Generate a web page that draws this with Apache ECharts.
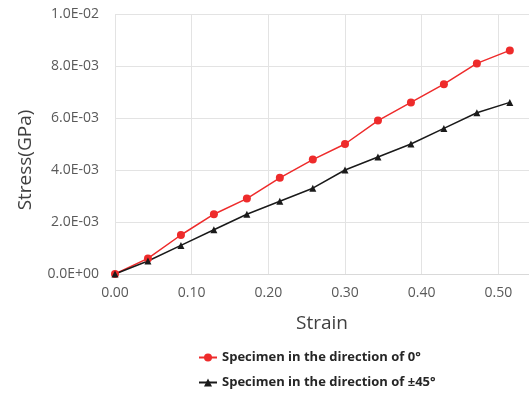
<!DOCTYPE html>
<html>
<head>
<meta charset="utf-8">
<script src="https://cdn.jsdelivr.net/npm/echarts@6/dist/echarts.min.js"></script>
<style>
  html, body { margin: 0; padding: 0; background: #fff; }
  #chart { width: 529px; height: 393px; }
</style>
</head>
<body>
<div id="chart"></div>
<script>
// strain values (x) and stress in GPa (y)
const strain = [0, 0.043, 0.086, 0.129, 0.172, 0.215, 0.258, 0.300, 0.343, 0.386, 0.429, 0.472, 0.515];
const stress0 = [0, 0.0006, 0.0015, 0.0023, 0.0029, 0.0037, 0.0044, 0.0050, 0.0059, 0.0066, 0.0073, 0.0081, 0.0086];
const stress45 = [0, 0.0005, 0.0011, 0.0017, 0.0023, 0.0028, 0.0033, 0.0040, 0.0045, 0.0050, 0.0056, 0.0062, 0.0066];
const seriesNames = ['Specimen in the direction of 0°', 'Specimen in the direction of ±45°'];

const font = 'Open Sans';

function expFmt(v) {
  // Excel style 1.0E-02
  let s = v.toExponential(1).toUpperCase();
  let m = s.split('E');
  let exp = parseInt(m[1], 10);
  let sign = exp < 0 ? '-' : '+';
  let e = Math.abs(exp).toString().padStart(2, '0');
  return m[0] + 'E' + sign + e;
}

let chart = echarts.init(document.getElementById('chart'));
const option = {
  animation: false,
  grid: { left: 115, right: 0, top: 14, bottom: 119 },
  legend: {
    orient: 'vertical',
    left: 198,
    top: 351,
    padding: 0,
    itemGap: 12,
    itemWidth: 18,
    itemHeight: 10,
    data: seriesNames,
    textStyle: { fontFamily: font, fontSize: 13, fontWeight: 'bold', color: '#262626' }
  },
  xAxis: {
    type: 'value',
    min: 0,
    max: 0.54,
    interval: 0.1,
    name: 'Strain',
    nameLocation: 'middle',
    nameGap: 40,
    nameTextStyle: { fontFamily: font, fontSize: 19, color: '#404040' },
    axisLine: { show: true, lineStyle: { color: '#d9d9d9' } },
    axisTick: { show: false },
    axisLabel: {
      fontFamily: font, fontSize: 14, color: '#595959', margin: 12,
      showMaxLabel: false,
      formatter: v => v.toFixed(2)
    },
    splitLine: { show: true, lineStyle: { color: '#e3e3e3' } }
  },
  yAxis: {
    type: 'value',
    min: 0,
    max: 0.01,
    interval: 0.002,
    name: 'Stress(GPa)',
    nameLocation: 'middle',
    nameGap: 80,
    nameTextStyle: { fontFamily: font, fontSize: 19, color: '#404040', padding: [0, 32, 0, 0] },
    axisLine: { show: false },
    axisTick: { show: false },
    axisLabel: { fontFamily: font, fontSize: 14, color: '#595959', margin: 16, formatter: expFmt },
    splitLine: { show: true, lineStyle: { color: '#e3e3e3' } }
  },
  series: [
    {
      name: seriesNames[0],
      type: 'line',
      data: strain.map((x, i) => [x, stress0[i]]),
      symbol: 'circle',
      symbolSize: 8,
      color: '#ee2b2b',
      lineStyle: { width: 1.5, color: '#ee2b2b' },
      itemStyle: { color: '#ee2b2b' }
    },
    {
      name: seriesNames[1],
      type: 'line',
      data: strain.map((x, i) => [x, stress45[i]]),
      symbol: 'triangle',
      symbolSize: 7,
      color: '#1a1a1a',
      lineStyle: { width: 1.5, color: '#1a1a1a' },
      itemStyle: { color: '#1a1a1a' }
    }
  ]
};
chart.setOption(option);
</script>
</body>
</html>
